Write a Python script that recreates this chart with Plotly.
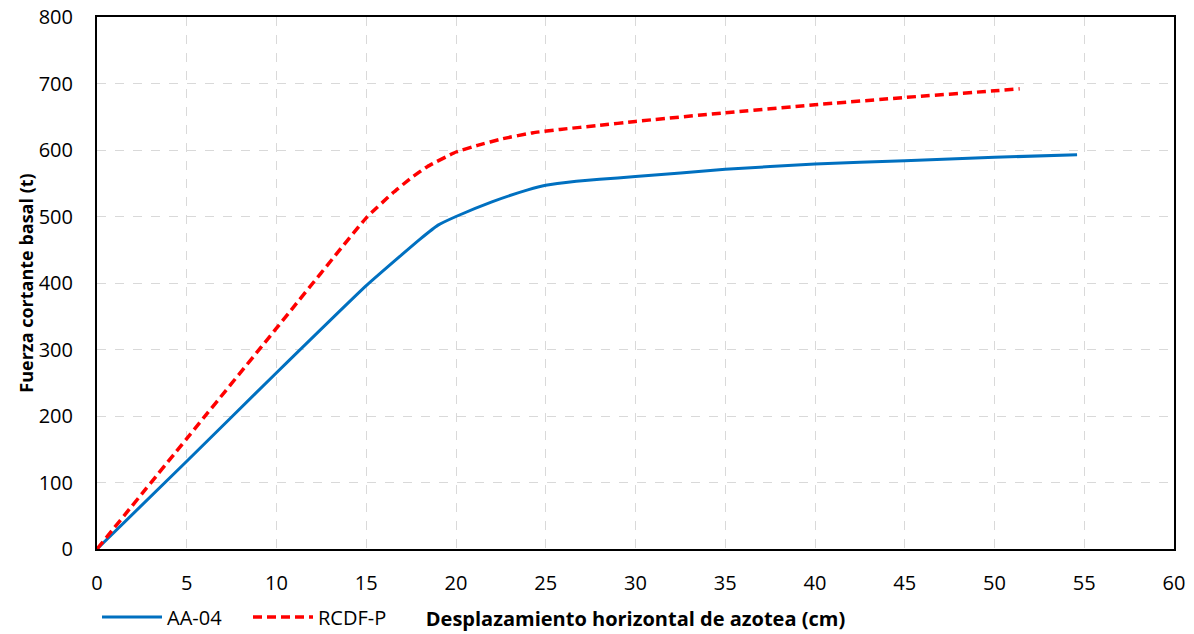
import plotly.graph_objects as go

# AA-04 curve (cm, t)
aa_x = [0, 5, 10, 15, 17, 18, 19, 20, 22, 24, 25, 26.7, 28, 30, 35, 40, 45, 50, 54.6]
aa_y = [0, 132, 265, 396, 443, 466, 487, 500, 522, 540, 547, 553, 556, 560, 571, 579, 584, 589, 593]

# RCDF-P curve (cm, t)
rc_x = [0, 5, 10, 15, 16.5, 17.5, 18.4, 20, 21.2, 22.6, 24.3, 25.8, 28, 30, 35, 40, 45, 50, 51.4]
rc_y = [0, 166, 332, 498, 536, 558, 575, 597, 607, 617, 626, 631, 637, 643, 656, 668, 679, 689, 692]

fig = go.Figure()
fig.add_trace(go.Scatter(x=aa_x, y=aa_y, name="AA-04", mode="lines",
                         line=dict(color="#0070C0", width=3, shape="spline", smoothing=0.35)))
fig.add_trace(go.Scatter(x=rc_x, y=rc_y, name="RCDF-P", mode="lines",
                         line=dict(color="#FF0000", width=3.5, dash="9px,5px", shape="spline", smoothing=0.35)))

font = "Open Sans, Liberation Sans, sans-serif"
fig.update_layout(
    width=1194, height=634,
    margin=dict(l=97, r=20, t=17, b=85, autoexpand=False),
    paper_bgcolor="white", plot_bgcolor="white",
    font=dict(family=font, size=19, color="black"),
    showlegend=True,
    legend=dict(orientation="h", x=0.0, xanchor="left", y=-0.128, yanchor="middle",
                font=dict(family=font, size=20, color="black"), itemwidth=60,
                entrywidth=76, bgcolor="rgba(0,0,0,0)"),
)
fig.update_xaxes(
    range=[0, 60], dtick=5, tick0=0, automargin=False,
    tickfont=dict(family=font, size=20, color="black"), ticklabeloverflow="allow",
    showgrid=True, gridcolor="#D9D9D9", griddash="dash", gridwidth=1,
    showline=True, linecolor="black", linewidth=2, mirror=True,
    zeroline=False, ticks="", ticklabelstandoff=15,
    title=dict(text="<b>Desplazamiento horizontal de azotea (cm)</b>",
               font=dict(family=font, size=20, color="black"), standoff=17),
)
fig.update_yaxes(
    range=[0, 800], dtick=100, tick0=0, automargin=False,
    tickfont=dict(family=font, size=20, color="black"), ticklabeloverflow="allow",
    showgrid=True, gridcolor="#D9D9D9", griddash="dash", gridwidth=1,
    showline=True, linecolor="black", linewidth=2, mirror=True,
    zeroline=False, ticks="", ticklabelstandoff=18,
    title=dict(text="<b>Fuerza cortante basal (t)</b>",
               font=dict(family=font, size=18, color="black"), standoff=0),
)

# drop the default 8px body margin so the figure fills the window
fig.write_html("out.html", config={"displayModeBar": False},
               post_script="document.body.style.margin='0';")
